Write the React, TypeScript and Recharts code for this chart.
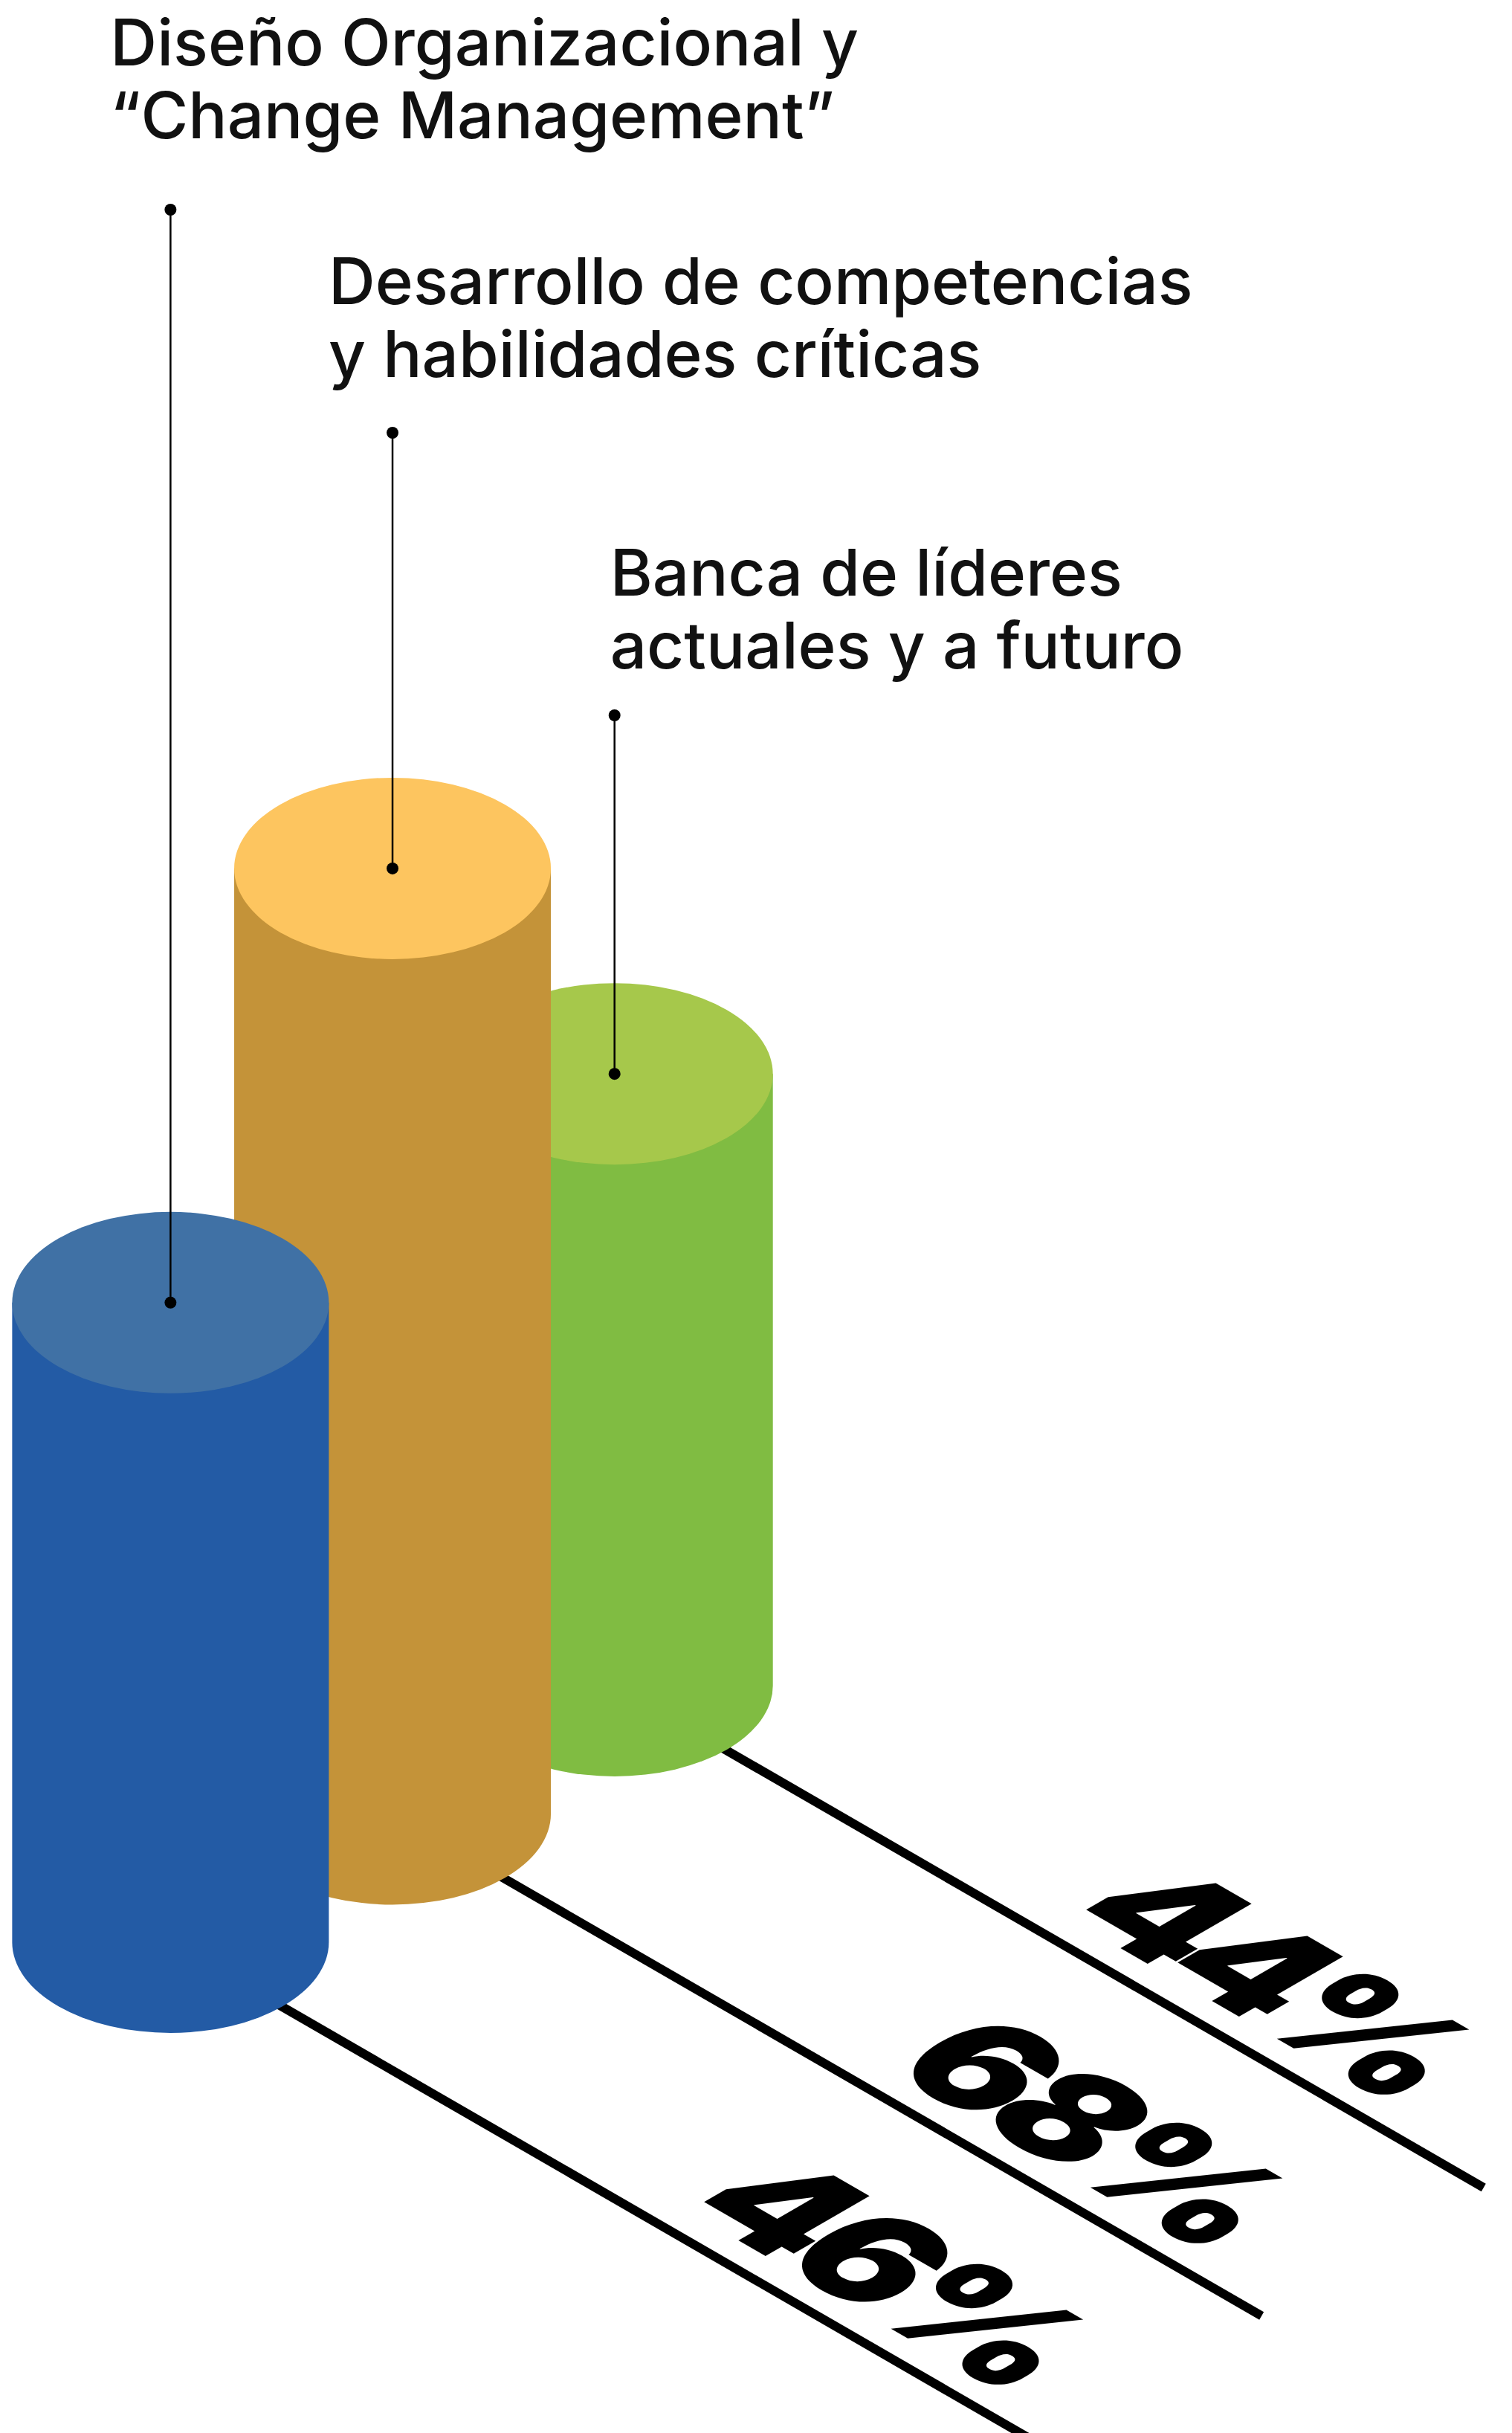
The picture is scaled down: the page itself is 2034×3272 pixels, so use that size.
import { Bar, BarChart, XAxis, YAxis } from "recharts";

// values, front (left) to back (right)
const categories = ["Diseño Organizacional", "Desarrollo de competencias", "Banca de líderes"];
const values = [46, 68, 44];
const labelLines = [
	["Diseño Organizacional y", "“Change Management”"],
	["Desarrollo de competencias", "y habilidades críticas"],
	["Banca de líderes", "actuales y a futuro"],
];
const bodyColors = ["#235BA5", "#C49339", "#80BC42"];
const topColors = ["#4071A5", "#FDC55F", "#A6C84B"];

// layout of the callouts and floor labels (not data)
const labelLayout = [
	{ dx: -81, y: 88, dotY: 282, pctEnd: 1250 },
	{ dx: -86, y: 409, dotY: 582, pctEnd: 1215 },
	{ dx: -6, y: 801, dotY: 962, pctEnd: 1160 },
];

const W = 2034;
const H = 3272;
const RX = 213;
const RY = 122;
const DEPTH_STEP = 172.5;
const FLOOR_LEN = 1350;
const LINE_GAP = 98;

// draw back-to-front, axis reversed so the front bar stays at left
const chartData = categories
	.map((name, i) => ({ name, value: values[i], rank: i }))
	.reverse();

function Cylinder(props: any) {
	const { x, y, width, height, payload } = props;
	const i = payload.rank;
	const cx = x + width / 2;
	const lift = i * DEPTH_STEP;
	const bottom = y + height - lift;
	const top = y - lift;
	const lay = labelLayout[i];
	const body = `M ${cx - RX} ${top} L ${cx - RX} ${bottom} A ${RX} ${RY} 0 0 0 ${cx + RX} ${bottom} L ${cx + RX} ${top} Z`;
	return (
		<g>
			<g transform={`translate(${cx}, ${bottom})`}>
				<line x1={0} y1={0} x2={FLOOR_LEN * 0.866} y2={FLOOR_LEN * 0.5} stroke="#000" strokeWidth={12} />
				{/* text lying on the isometric floor */}
				<g transform="matrix(0.866 0.5 -0.866 0.5 0 0)">
					<text
						x={lay.pctEnd}
						y={-40}
						textAnchor="end"
						fontFamily="Inter, Roboto, sans-serif"
						fontWeight={900}
						fontSize={222}
						letterSpacing={-14}
						fill="#000"
					>
						{`${payload.value}%`}
					</text>
				</g>
			</g>
			<path d={body} fill={bodyColors[i]} />
			<ellipse cx={cx} cy={top} rx={RX} ry={RY} fill={topColors[i]} />
			<line x1={cx} y1={lay.dotY} x2={cx} y2={top} stroke="#000" strokeWidth={2.5} />
			<circle cx={cx} cy={lay.dotY} r={8} fill="#000" />
			<circle cx={cx} cy={top} r={8} fill="#000" />
			<text
				x={cx + lay.dx}
				y={lay.y}
				fontFamily="Inter, 'Open Sans', sans-serif"
				fontWeight={500}
				fontSize={87}
				fill="#111"
			>
				{labelLines[i].map((t, k) => (
					<tspan key={k} x={cx + lay.dx} y={lay.y + k * LINE_GAP}>
						{t}
					</tspan>
				))}
			</text>
		</g>
	);
}

export default function App() {
	return (
		<div style={{ position: "absolute", top: 0, left: 0, width: W, height: H, background: "#fff" }}>
			<BarChart width={W} height={H} data={chartData} margin={{ top: 742, right: 1058, bottom: 660, left: 80 }}>
				<XAxis dataKey="name" hide reversed />
				<YAxis hide domain={[0, 100]} />
				<Bar dataKey="value" shape={Cylinder} isAnimationActive={false} />
			</BarChart>
		</div>
	);
}
